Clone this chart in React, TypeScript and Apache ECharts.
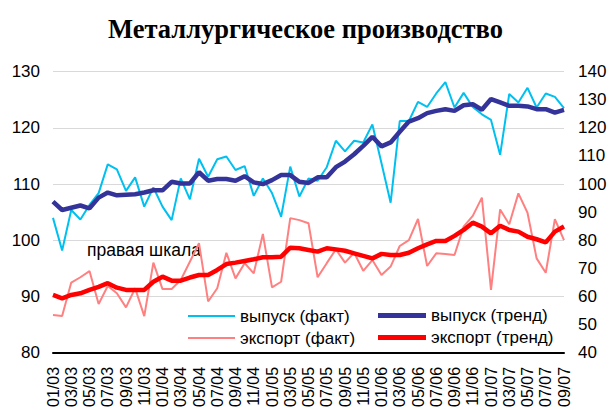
import React, { useEffect, useRef } from "react";
import * as echarts from "echarts";

const months: string[] = [];
for (let y = 3; y <= 7; y++) {
  for (let m = 1; m <= 12; m++) {
    if (y === 7 && m > 9) break;
    months.push(`${String(m).padStart(2, "0")}/0${y}`);
  }
}

const outputFact = [
  104.0, 98.2, 105.4, 103.7, 106.3, 108.4, 113.5, 112.6, 108.8, 111.2,
  106.0, 109.4, 106.0, 103.6, 111.0, 107.3, 114.5, 111.3, 114.4, 114.9,
  112.5, 113.2, 107.9, 111.0, 108.4, 104.2, 113.1, 107.8, 111.0, 110.6,
  113.0, 117.7, 115.8, 117.7, 117.4, 120.6, 113.7, 106.7, 121.2, 121.2,
  124.6, 123.7, 126.1, 128.1, 123.6, 126.2, 123.7, 122.4, 121.4, 115.2,
  126.0, 124.5, 127.1, 123.6, 126.1, 125.5, 123.5,
];
const outputTrend = [
  106.9, 105.4, 105.8, 106.2, 105.7, 107.6, 108.5, 108.0, 108.1, 108.2,
  108.5, 108.9, 108.9, 110.4, 110.1, 110.1, 112.1, 110.6, 110.9, 110.9,
  110.6, 111.4, 110.3, 110.0, 110.7, 111.6, 111.6, 110.4, 110.2, 111.2,
  111.2, 113.0, 114.0, 115.3, 116.8, 118.4, 116.7, 117.4, 119.3, 121.1,
  121.7, 122.6, 123.0, 123.3, 123.0, 124.0, 124.2, 123.2, 125.1, 124.5,
  123.9, 123.9, 123.8, 123.3, 123.3, 122.7, 123.2,
];
const exportFact = [
  53.5, 53.1, 65.0, 66.9, 69.1, 57.4, 63.8, 61.2, 56.2, 63.0,
  53.1, 72.1, 62.7, 62.7, 65.9, 72.4, 79.0, 58.3, 63.0, 75.6,
  66.5, 71.9, 68.3, 82.3, 63.3, 65.3, 87.9, 87.2, 86.1, 66.9,
  71.9, 76.8, 72.1, 75.6, 69.2, 73.0, 67.7, 70.7, 78.0, 80.1,
  87.6, 70.9, 75.4, 75.2, 74.8, 84.9, 88.7, 95.2, 62.4, 91.0,
  85.7, 96.7, 89.8, 73.6, 68.5, 87.5, 80.1,
];
const exportTrend = [
  60.6, 59.4, 60.6, 61.2, 62.4, 63.5, 64.8, 63.2, 62.4, 62.4,
  62.4, 65.3, 67.1, 65.7, 65.7, 66.8, 67.7, 67.7, 69.5, 71.6,
  72.1, 72.7, 73.3, 74.0, 74.0, 74.2, 77.4, 77.2, 76.6, 76.0,
  77.2, 76.8, 76.3, 75.4, 74.5, 73.6, 75.2, 74.8, 74.8, 75.6,
  77.2, 78.6, 79.8, 79.8, 81.6, 83.7, 86.3, 84.9, 82.5, 85.2,
  83.7, 83.1, 81.3, 80.4, 79.3, 83.1, 84.9,
];

const names = ["выпуск (факт)", "выпуск (тренд)", "экспорт (факт)", "экспорт (тренд)"];

const FONT = "'Liberation Sans', Arial, sans-serif";

export default function App() {
  const ref = useRef<HTMLDivElement>(null);
  useEffect(() => {
    if (!ref.current) return;
    const chart = echarts.init(ref.current, null, { renderer: "svg" });
    const legendText = { fontFamily: FONT, fontSize: 17, lineHeight: 17, color: "#000" };
    chart.setOption({
      animation: false,
      backgroundColor: "#ffffff",
      title: {
        text: "Металлургическое производство",
        left: "center",
        top: 10,
        textStyle: {
          fontFamily: "'Liberation Serif', 'Times New Roman', serif",
          fontWeight: "bold",
          fontSize: 26.5,
          color: "#000",
        },
      },
      grid: { left: 53, right: 47, top: 71.5, bottom: 57 },
      legend: [
        {
          data: [names[0], names[2]],
          orient: "vertical",
          left: 188,
          top: 307.5,
          padding: 0,
          itemWidth: 47,
          itemHeight: 2,
          itemGap: 5,
          icon: "rect",
          textStyle: legendText,
        },
        {
          data: [names[1], names[3]],
          orient: "vertical",
          left: 378,
          top: 307,
          padding: 0,
          itemWidth: 48,
          itemHeight: 5,
          itemGap: 5,
          icon: "rect",
          textStyle: legendText,
        },
      ],
      xAxis: {
        type: "category",
        data: months,
        boundaryGap: false,
        axisLine: { lineStyle: { color: "#000", width: 2 } },
        axisTick: { show: false },
        axisLabel: {
          interval: 1,
          rotate: 90,
          fontFamily: FONT,
          fontSize: 16,
          color: "#000",
          margin: 14,
        },
      },
      yAxis: [
        {
          type: "value",
          min: 80,
          max: 130,
          interval: 10,
          axisLine: { show: false },
          axisTick: { show: false },
          axisLabel: { fontFamily: FONT, fontSize: 17, color: "#000", margin: 13 },
          splitLine: { lineStyle: { color: "#d9d9d9", width: 1 } },
        },
        {
          type: "value",
          min: 40,
          max: 140,
          interval: 10,
          axisLine: { show: false },
          axisTick: { show: false },
          axisLabel: { fontFamily: FONT, fontSize: 17, color: "#000", margin: 14 },
          splitLine: { show: false },
        },
      ],
      series: [
        {
          name: names[2],
          type: "line",
          yAxisIndex: 1,
          data: exportFact,
          symbol: "none",
          color: "#ff8080",
          lineStyle: { color: "#ff8080", width: 2 },
        },
        {
          name: names[0],
          type: "line",
          yAxisIndex: 0,
          data: outputFact,
          symbol: "none",
          color: "#00c0f0",
          lineStyle: { color: "#00c0f0", width: 2 },
        },
        {
          name: names[3],
          type: "line",
          yAxisIndex: 1,
          data: exportTrend,
          symbol: "none",
          color: "#ff0000",
          lineStyle: { color: "#ff0000", width: 4.5 },
        },
        {
          name: names[1],
          type: "line",
          yAxisIndex: 0,
          data: outputTrend,
          symbol: "none",
          color: "#333399",
          lineStyle: { color: "#333399", width: 4.5 },
        },
      ],
      graphic: [
        {
          type: "text",
          left: 87,
          top: 241,
          style: { text: "правая шкала", fontFamily: FONT, fontSize: 17.5, fill: "#000" },
        },
      ],
    });
    return () => chart.dispose();
  }, []);
  return <div ref={ref} style={{ width: 611, height: 410, position: "absolute", left: 0, top: 0 }} />;
}
